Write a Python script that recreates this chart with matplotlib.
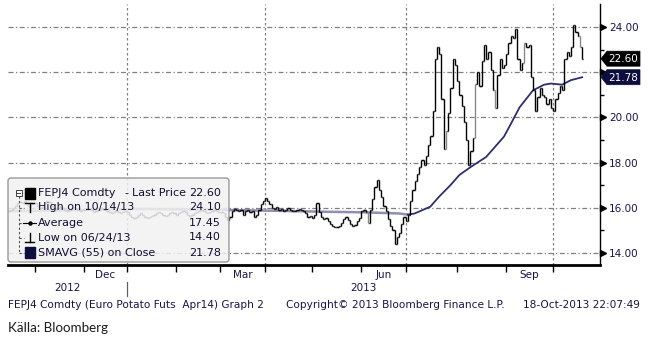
import numpy as np
import pandas as pd
import matplotlib
matplotlib.use('Agg')
import matplotlib.pyplot as plt
import matplotlib.transforms as mtransforms
from matplotlib.collections import LineCollection
from matplotlib.patches import FancyBboxPatch, Polygon, Rectangle
from matplotlib.ticker import FixedLocator, FuncFormatter

# FEPJ4 (Euro potato futures, Apr14) daily closes, one list per month
close_oct12 = [15.85, 15.9, 16.0, 16.1, 16.2, 16.25, 16.2, 16.3, 16.2, 16.1, 16.15, 16.2]
close_nov12 = [16.2, 16.1, 16.0, 16.05, 16.2, 16.3, 16.25, 16.1, 16.0, 15.95, 16.0, 16.1,
               16.0, 15.9, 15.85, 15.9, 16.0, 16.05, 15.95, 15.9, 15.85, 15.9]
close_dec12 = [15.9, 16.0, 15.95, 15.9, 15.8, 15.85, 15.9, 16.0, 15.95, 15.9, 15.85, 15.8,
               15.75, 15.8, 15.85, 15.8, 15.75, 15.8, 15.85]
close_jan13 = [15.8, 15.7, 15.6, 15.55, 15.6, 15.7, 15.75, 15.7, 15.6, 15.55, 15.6, 15.65,
               15.7, 15.75, 15.8, 15.75, 15.7, 15.65, 15.7, 15.75, 15.8, 15.75]
close_feb13 = [15.7, 15.75, 15.8, 15.85, 15.8, 15.7, 15.65, 15.7, 15.75, 15.8, 15.85, 15.9,
               15.85, 15.8, 15.75, 15.8, 15.85, 15.9, 15.85, 15.8]
close_mar13 = [15.8, 15.75, 15.6, 15.45, 15.6, 15.85, 15.95, 15.9, 15.85, 15.9, 15.7, 15.85,
               15.9, 15.8, 15.85, 15.6, 15.7, 15.9, 16.15, 16.3]
close_apr13 = [16.45, 16.3, 16.15, 16.0, 15.95, 16.05, 15.9, 15.95, 15.85, 15.9, 16.0, 15.9,
               15.85, 15.85, 15.9, 15.95, 15.9, 15.85, 15.75, 15.6, 15.65]
close_may13 = [15.55, 15.7, 16.2, 15.8, 15.6, 15.5, 15.55, 15.4, 15.3, 15.2, 15.15, 15.15,
               15.2, 15.35, 15.5, 15.6, 15.45, 15.3, 15.2, 15.25, 15.4, 15.55]
close_jun13 = [15.85, 15.9, 15.8, 15.35, 15.9, 16.4, 16.9, 17.25, 16.8, 16.5, 16.1, 15.85,
               15.5, 15.2, 15.0, 14.4, 14.7, 14.9, 15.3, 15.6]
close_jul13 = [15.4, 15.7, 16.3, 16.8, 17.2, 17.5, 17.8, 18.1, 17.9, 18.3, 18.8, 19.2,
               20.3, 22.6, 23.1, 22.8, 20.8, 18.6, 19.4, 20.2, 21.3, 22.6, 22.3]
close_aug13 = [21.6, 21.0, 20.5, 19.8, 19.0, 17.9, 18.5, 19.1, 21.5, 22.0, 21.4, 22.5,
               23.2, 22.6, 22.9, 22.1, 21.2, 20.4, 21.9, 22.6, 22.2, 22.3]
close_sep13 = [22.8, 23.3, 23.6, 23.5, 23.9, 22.6, 22.1, 22.4, 23.3, 23.1, 23.2, 21.8,
               21.2, 20.3, 20.9, 21.3, 21.0, 20.9, 20.6, 20.8, 20.4]
close_oct13 = [20.3, 20.8, 21.1, 21.4, 21.2, 22.6, 22.9, 22.7, 23.1, 24.1, 23.8, 23.6,
               23.1, 22.6]

# days settled without trades (drawn grey)
settle_only = [161, 196, 209, 218, 231, 256]

# 55-day simple moving average of close, sampled by trading-day index
sma_idx = [0, 20, 40, 60, 80, 100, 120, 140, 160, 175, 179, 182, 189, 193, 198, 202,
           207, 214, 222, 225, 229, 235, 240, 243, 248, 252, 257]
sma_val = [15.85, 15.88, 15.92, 15.95, 15.93, 15.9, 15.87, 15.83, 15.8, 15.75, 15.7, 15.75,
           16.05, 16.5, 17.0, 17.45, 17.8, 18.25, 19.15, 19.7, 20.45, 21.2, 21.45, 21.5,
           21.45, 21.65, 21.78]

holidays = ['2012-12-25', '2012-12-26', '2013-01-01', '2013-03-29', '2013-04-01', '2013-05-01']
y_ticks = [14, 16, 18, 20, 22, 24]
month_labels = {'2012-12': 'Dec', '2013-03': 'Mar', '2013-06': 'Jun', '2013-09': 'Sep'}
year_labels = ['2012', '2013']

last_price = 22.60
high_price, high_date = 24.10, '10/14/13'
avg_price = 17.45
low_price, low_date = 14.40, '06/24/13'

closes = (close_oct12 + close_nov12 + close_dec12 + close_jan13 + close_feb13 + close_mar13 +
          close_apr13 + close_may13 + close_jun13 + close_jul13 + close_aug13 + close_sep13 +
          close_oct13)
dates = pd.bdate_range('2012-10-16', '2013-10-18')
dates = dates[~dates.isin(pd.to_datetime(holidays))]
assert len(dates) == len(closes)

navy = '#15154a'
W, H = 648, 343
fig = plt.figure(figsize=(W / 100, H / 100), dpi=100)
ax = fig.add_axes([8 / W, 78 / H, 592 / W, 261 / H])
ax.set_xlim(-0.1, 265)
ax.set_ylim(13.47, 25.02)

# OHLC-style bars: open = previous close
x = np.arange(len(closes))
c = np.array(closes)
o = np.r_[c[0], c[:-1]]
hi = np.maximum(o, c)
lo = np.minimum(o, c)
segs, cols = [], []
for i in x:
    col = '#8a8a8a' if i in settle_only else 'black'
    segs += [[(i, lo[i]), (i, hi[i])], [(i - 0.55, o[i]), (i, o[i])], [(i, c[i]), (i + 0.55, c[i])]]
    cols += [col] * 3
ax.add_collection(LineCollection(segs, colors=cols, linewidths=1.0, zorder=3))

# moving average: faded before July, dark afterwards
sma_idx = np.array(sma_idx)
sma_val = np.array(sma_val)
ax.plot(sma_idx[sma_idx <= 179], sma_val[sma_idx <= 179], color='#8e8eb0', lw=1.8, zorder=2)
ax.plot(sma_idx[sma_idx >= 179], sma_val[sma_idx >= 179], color='#2e2e6e', lw=1.3, zorder=2)

# month boundaries
month_keys = dates.strftime('%Y-%m')
month_start = [i for i in range(len(dates)) if i == 0 or month_keys[i] != month_keys[i - 1]][1:]
ax.xaxis.set_major_locator(FixedLocator(month_start))
ax.xaxis.set_major_formatter(FuncFormatter(lambda v, p: ''))
ax.tick_params(axis='x', direction='out', length=5, width=1, color='black')

for i in month_start:
    if dates[i].month in (1, 4, 7, 10):
        ax.axvline(i, color='#808080', lw=0.9, ls=(0, (2, 2)), zorder=1)
for yv in y_ticks:
    ax.axhline(yv, color='#808080', lw=0.9, ls=(0, (4, 2, 1, 2)), zorder=1)

bounds = [0] + month_start + [len(dates) + 10]
for k in range(len(month_start)):
    key = month_keys[bounds[k + 1]]
    if key in month_labels:
        xc = (bounds[k + 1] + bounds[k + 2]) / 2
        ax.text(xc, -0.038, month_labels[key], transform=ax.get_xaxis_transform(),
                ha='center', va='center', fontsize=7.5, color=navy)
year_start = [i for i in month_start if dates[i].month == 1][0]
ax.text((ax.get_xlim()[0] + year_start) / 2, -0.088, year_labels[0],
        transform=ax.get_xaxis_transform(), ha='center', va='center', fontsize=7.5, color=navy)
ax.text((year_start + ax.get_xlim()[1]) / 2, -0.088, year_labels[1],
        transform=ax.get_xaxis_transform(), ha='center', va='center', fontsize=7.5, color=navy)
ax.plot([year_start, year_start], [-0.065, -0.118], transform=ax.get_xaxis_transform(),
        color='#606060', lw=0.9, clip_on=False)

# right price axis
ax.yaxis.tick_right()
ax.yaxis.set_major_locator(FixedLocator(y_ticks))
sma_last = sma_val[-1]
ax.yaxis.set_major_formatter(FuncFormatter(
    lambda v, p: '' if min(abs(v - last_price), abs(v - sma_last)) < 0.8 else f'{v:.2f}'))
ax.yaxis.set_minor_locator(FixedLocator([15, 17, 19, 21, 23]))
ax.tick_params(axis='y', which='major', length=0, pad=6.5, labelsize=7.5, labelcolor=navy)
ax.tick_params(axis='y', which='minor', length=3, width=1, color='black', direction='out')
tri = mtransforms.offset_copy(ax.get_yaxis_transform(), fig=fig, x=3.5, y=0, units='dots')
ax.plot([1] * len(y_ticks), y_ticks, ls='none', marker='>', ms=4, color='black',
        transform=tri, clip_on=False)

for s in ['top', 'left']:
    ax.spines[s].set_visible(False)
ax.spines['right'].set_linewidth(1.0)
ax.spines['bottom'].set_linewidth(2.0)
ax.set_facecolor('white')

# overlay in pixel units for legend, value flags and footer
ov = fig.add_axes([0, 0, 1, 1], zorder=5)
ov.set_xlim(0, W)
ov.set_ylim(H, 0)
ov.axis('off')
ov.patch.set_visible(False)

def ypix(v):
    return H - ax.transData.transform((0, v))[1]

for val, fc in [(last_price, 'black'), (sma_last, '#0e0e3e')]:
    yc = ypix(val)
    ov.add_patch(Polygon([(601, yc), (607, yc - 7.5), (640, yc - 7.5), (640, yc + 7.5),
                          (607, yc + 7.5)], closed=True, fc=fc, ec=fc, lw=0.5))
    ov.text(623.5, yc + 0.5, f'{val:.2f}', color='white', fontsize=7.5, ha='center', va='center')

ov.add_patch(FancyBboxPatch((8, 178), 221, 84, boxstyle='round,pad=0,rounding_size=3',
                            fc='#f1f1f1', ec='#8a8a8a', lw=1.0, alpha=0.86))
rows = [193, 207.5, 222.5, 237.5, 252.5]
ov.add_patch(Rectangle((15.5, 189.5), 6, 6, fc='white', ec='#404040', lw=0.7))
ov.plot([16.8, 20.2], [192.5, 192.5], color='#404040', lw=0.7)
ov.plot([18.5, 18.5], [196, rows[4]], color='#505050', lw=0.8, ls=(0, (2, 2)))
for r in rows[1:]:
    ov.plot([18.5, 24], [r, r], color='#505050', lw=0.8, ls=(0, (2, 2)))
ov.add_patch(Rectangle((25, 187.5), 10, 11, fc='black', ec='black'))
ov.plot([25, 34], [203, 203], color='black', lw=1)
ov.plot([29.5, 29.5], [203, 212], color='black', lw=1)
ov.plot([23, 36], [rows[2], rows[2]], color='black', lw=0.8)
ov.plot([29.5], [rows[2]], marker='o', ms=2.2, color='black')
ov.plot([29.5, 29.5], [233, 242], color='black', lw=1)
ov.plot([25, 34], [242, 242], color='black', lw=1)
ov.add_patch(Rectangle((25, 247), 10, 11, fc='#0e0e3e', ec='#0e0e3e'))

legend_rows = [('FEPJ4 Comdty', last_price),
               (f'High on {high_date}', high_price),
               ('Average', avg_price),
               (f'Low on {low_date}', low_price),
               ('SMAVG (55) on Close', sma_last)]
for r, (label, val) in zip(rows, legend_rows):
    ov.text(38, r, label, fontsize=8, color='#101030', va='center')
    ov.text(221, r, f'{val:.2f}', fontsize=8, color='#101030', va='center', ha='right')
ov.text(124, rows[0], '-', fontsize=8, color='#101030', va='center')
ov.text(132, rows[0], 'Last Price', fontsize=8, color='#101030', va='center')

ov.text(8, 305, 'FEPJ4 Comdty (Euro Potato Futs  Apr14) Graph 2', fontsize=7.6, color=navy, va='center')
ov.text(286, 305, 'Copyright\u00a9 2013 Bloomberg Finance L.P.', fontsize=7.6, color=navy, va='center')
ov.text(640, 305, '18-Oct-2013 22:07:49', fontsize=7.6, color=navy, va='center', ha='right')
ov.text(8, 328, 'Källa: Bloomberg', fontsize=9.6, family='Lato', color='#1a1a1a', va='center')

fig.savefig('out.png', dpi=100, facecolor='white')
